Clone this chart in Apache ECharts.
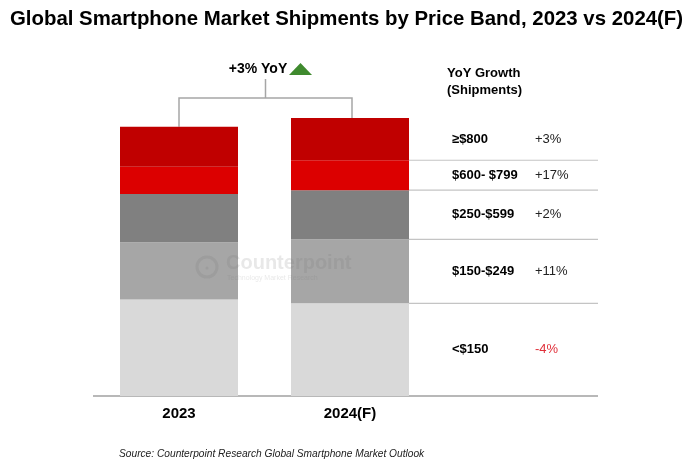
<!DOCTYPE html>
<html><head><meta charset="utf-8">
<script src="https://cdn.jsdelivr.net/npm/echarts/dist/echarts.min.js"></script>
<style>html,body{margin:0;padding:0;background:#fff}#c{width:696px;height:463px}</style>
</head><body><div id="c"></div>
<script>
// ---- data (million units) ----
const categories = ['2023', '2024(F)'];
const bandNames = ['<$150', '$150-$249', '$250-$599', '$600- $799', '\u2265$800'];
const under150 = [420, 403];
const band150_249 = [248, 278];
const band250_599 = [210, 214];
const band600_799 = [119, 130];
const over800 = [174, 184];
const yoyGrowth = ['-4%', '+11%', '+2%', '+17%', '+3%'];
const totalYoY = '+3% YoY';
const titleText = 'Global Smartphone Market Shipments by Price Band, 2023 vs 2024(F)';
const sourceText = 'Source: Counterpoint Research Global Smartphone Market Outlook';

const seriesData = [under150, band150_249, band250_599, band600_799, over800];
const colors = ['#d9d9d9', '#a6a6a6', '#808080', '#dc0000', '#c00000'];
const FONT = 'Arial, "Liberation Sans", sans-serif';

const chart = echarts.init(document.getElementById('c'), null, {renderer: 'canvas'});
const BAR_W = 118;
chart.setOption({
  animation: false,
  backgroundColor: '#fff',
  title: {
    text: titleText, left: 5, top: 4,
    textStyle: {fontFamily: FONT, fontSize: 20.4, fontWeight: 'bold', color: '#000'}
  },
  grid: {left: 93.5, width: 342, top: 97, bottom: 67},
  xAxis: {
    type: 'category', data: categories,
    axisLine: {show: false}, axisTick: {show: false},
    axisLabel: {margin: 10, fontFamily: FONT, fontSize: 15, fontWeight: 'bold', color: '#000'}
  },
  yAxis: {type: 'value', min: 0, max: 1300, show: false, splitLine: {show: false}},
  series: seriesData.map((d, i) => ({
    type: 'bar', stack: 'total', name: bandNames[i], data: d,
    barWidth: BAR_W, itemStyle: {color: colors[i]}, emphasis: {disabled: true}
  }))
});

// ---- derived annotations positioned through the chart's scales ----
const px = (ci, v) => chart.convertToPixel({gridIndex: 0}, [ci, v]);
const cum = (ci, n) => { let s = 0; for (let k = 0; k < n; k++) s += seriesData[k][ci]; return s; };
const g = [];
const base = px(1, 0)[1];
const c0 = px(0, 0)[0], c1 = px(1, 0)[0];
const barRight = c1 + BAR_W / 2;
const tableRight = 598;
// baseline
g.push({type: 'line', shape: {x1: 93, y1: base, x2: tableRight, y2: base}, style: {stroke: '#a0a0a0', lineWidth: 1.5}});
// separators aligned with 2024 stack boundaries
for (let n = 1; n <= 4; n++) {
  const y = px(1, cum(1, n))[1];
  g.push({type: 'line', shape: {x1: barRight, y1: y, x2: tableRight, y2: y}, style: {stroke: '#c4c4c4', lineWidth: 1.2}});
}
// table labels
for (let n = 0; n < 5; n++) {
  const yMid = (px(1, cum(1, n))[1] + px(1, cum(1, n + 1))[1]) / 2;
  g.push({type: 'text', x: 452, y: yMid, style: {text: bandNames[n], fontFamily: FONT, fontSize: 13, fontWeight: 'bold', fill: '#000', verticalAlign: 'middle', align: 'left'}});
  g.push({type: 'text', x: 535, y: yMid, style: {text: yoyGrowth[n], fontFamily: FONT, fontSize: 13, fill: yoyGrowth[n].startsWith('-') ? '#e0303a' : '#222', verticalAlign: 'middle', align: 'left'}});
}
g.push({type: 'text', x: 447, y: 73, style: {text: 'YoY Growth', fontFamily: FONT, fontSize: 13, fontWeight: 'bold', fill: '#000', verticalAlign: 'middle'}});
g.push({type: 'text', x: 447, y: 90, style: {text: '(Shipments)', fontFamily: FONT, fontSize: 13, fontWeight: 'bold', fill: '#000', verticalAlign: 'middle'}});
// bracket
const top0 = px(0, cum(0, 5))[1], top1 = px(1, cum(1, 5))[1];
const bracketY = 98;
g.push({type: 'polyline', shape: {points: [[c0, top0], [c0, bracketY], [c1 + 2, bracketY], [c1 + 2, top1]]}, style: {stroke: '#a6a6a6', lineWidth: 1.5, fill: null}});
const mid = (c0 + c1 + 2) / 2;
g.push({type: 'line', shape: {x1: mid, y1: bracketY, x2: mid, y2: 79}, style: {stroke: '#a6a6a6', lineWidth: 1.5}});
g.push({type: 'text', x: 258, y: 69, style: {text: totalYoY, fontFamily: FONT, fontSize: 14, fontWeight: 'bold', fill: '#000', align: 'center', verticalAlign: 'middle'}});
g.push({type: 'polygon', shape: {points: [[289, 75], [300.5, 63], [312, 75]]}, style: {fill: '#3f8a2e'}});
// watermark
const wm = 'rgba(110,110,110,0.16)';
g.push({type: 'circle', shape: {cx: 207, cy: 267, r: 10}, style: {stroke: wm, lineWidth: 3, fill: null}, z: 50});
g.push({type: 'circle', shape: {cx: 207, cy: 268, r: 1.5}, style: {fill: wm}, z: 50});
g.push({type: 'text', x: 226, y: 263, style: {text: 'Counterpoint', fontFamily: FONT, fontSize: 20, fontWeight: 'bold', fill: wm, verticalAlign: 'middle'}, z: 50});
g.push({type: 'text', x: 227, y: 278, style: {text: 'Technology Market Research', fontFamily: FONT, fontSize: 7, fill: wm, verticalAlign: 'middle'}, z: 50});
// source
g.push({type: 'text', x: 119, y: 454, style: {text: sourceText, fontFamily: FONT, fontSize: 10.2, fontStyle: 'italic', fill: '#222', verticalAlign: 'middle'}});
chart.setOption({graphic: g});
</script>
</body></html>
